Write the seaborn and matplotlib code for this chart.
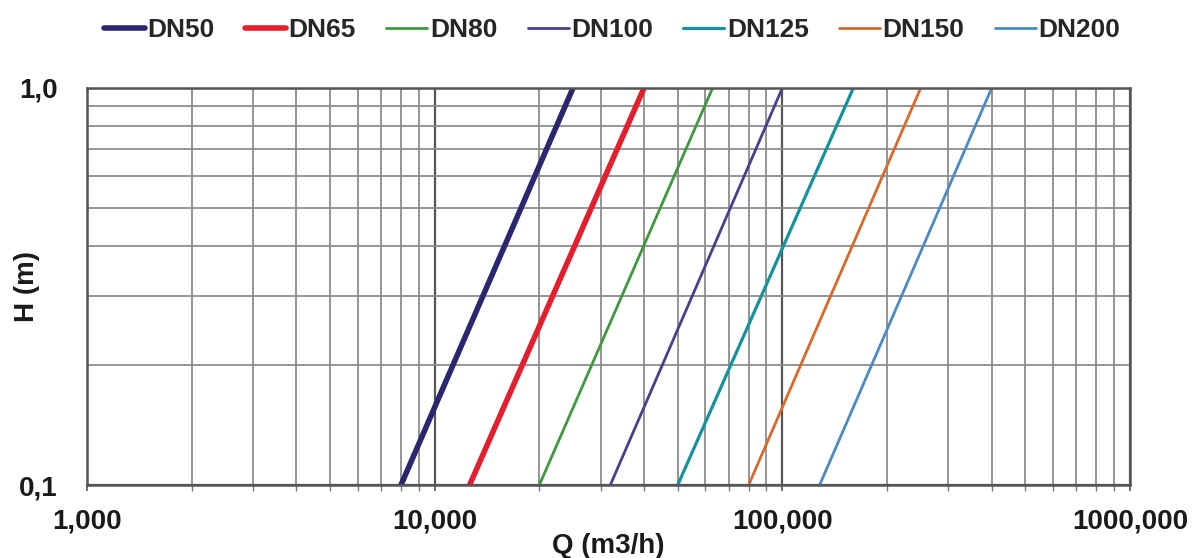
import matplotlib
matplotlib.use("Agg")
import matplotlib.pyplot as plt
import matplotlib.ticker as mticker
import seaborn as sns
import pandas as pd

series = ["DN50", "DN65", "DN80", "DN100", "DN125", "DN150", "DN200"]
head_m = [0.1, 1.0]
q_at_h01 = [8000, 12600, 20000, 32000, 50000, 80000, 128000]
q_at_h10 = [25000, 40000, 63000, 100000, 160000, 250000, 400000]
colors = ["#2a2670", "#e41e2c", "#3c9a3c", "#4a3f8f", "#14929e", "#d8692a", "#4a8ac6"]
widths = [4.0, 4.0, 2.0, 2.0, 2.3, 2.0, 2.0]

x_ticks = [1000, 10000, 100000, 1000000]
x_labels = ["1,000", "10,000", "100,000", "1000,000"]
y_ticks = [0.1, 1.0]
y_labels = ["0,1", "1,0"]

rows = []
for s, q0, q1 in zip(series, q_at_h01, q_at_h10):
    rows.append({"series": s, "Q": q0, "H": head_m[0]})
    rows.append({"series": s, "Q": q1, "H": head_m[1]})
df = pd.DataFrame(rows)

sns.set_theme(style="white")
plt.rcParams["font.family"] = ["Liberation Sans", "DejaVu Sans"]

fig = plt.figure(figsize=(12, 5.58), dpi=100)
ax = fig.add_axes([0.0725, 0.1308, 0.8692, 0.7115])
ax.set_xscale("log")
ax.set_yscale("log")
ax.set_xlim(1000, 1000000)
ax.set_ylim(0.1, 1.0)

for s, c, w in zip(series, colors, widths):
    sns.lineplot(data=df[df["series"] == s], x="Q", y="H", color=c,
                 linewidth=w, ax=ax, label=s, estimator=None, sort=False)

ax.xaxis.set_major_locator(mticker.FixedLocator(x_ticks))
ax.xaxis.set_major_formatter(mticker.FixedFormatter(x_labels))
ax.yaxis.set_major_locator(mticker.FixedLocator(y_ticks))
ax.yaxis.set_major_formatter(mticker.FixedFormatter(y_labels))
ax.xaxis.set_minor_locator(mticker.LogLocator(base=10, subs=range(2, 10)))
ax.yaxis.set_minor_locator(mticker.LogLocator(base=10, subs=range(2, 10)))
ax.xaxis.set_minor_formatter(mticker.NullFormatter())
ax.yaxis.set_minor_formatter(mticker.NullFormatter())

ax.grid(True, which="major", color="#555555", linewidth=1.6)
ax.grid(True, which="minor", color="#8c8c8c", linewidth=1.3)
ax.set_axisbelow(True)
for sp in ax.spines.values():
    sp.set_color("#555555")
    sp.set_linewidth(1.8)

ax.tick_params(axis="x", which="major", labelsize=20, length=4, width=1.2,
               color="#555555", direction="out", bottom=True, pad=13)
ax.tick_params(axis="y", which="major", labelsize=20, length=0, left=False, pad=21)
ax.tick_params(axis="x", which="minor", length=4, width=1.0, color="#777777",
               bottom=True)
ax.tick_params(axis="y", which="minor", length=0)
for lab in ax.get_xticklabels() + ax.get_yticklabels():
    lab.set_fontweight("bold")
    lab.set_color("#1a1a1a")

ax.set_xlabel("Q (m3/h)", fontsize=20, fontweight="bold", color="#1a1a1a",
              va="center")
ax.xaxis.set_label_coords(0.5, -0.153)
ax.set_ylabel("H (m)", fontsize=20, fontweight="bold", color="#1a1a1a",
              va="center")
ax.yaxis.set_label_coords(-0.058, 0.5)

ax.legend(loc="center", bbox_to_anchor=(0.5035, 1.146), ncol=7,
          frameon=False, handlelength=1.55, handletextpad=0.1,
          columnspacing=1.15, prop={"weight": "bold", "size": 19})

fig.savefig("out.png", dpi=100, facecolor="white")
